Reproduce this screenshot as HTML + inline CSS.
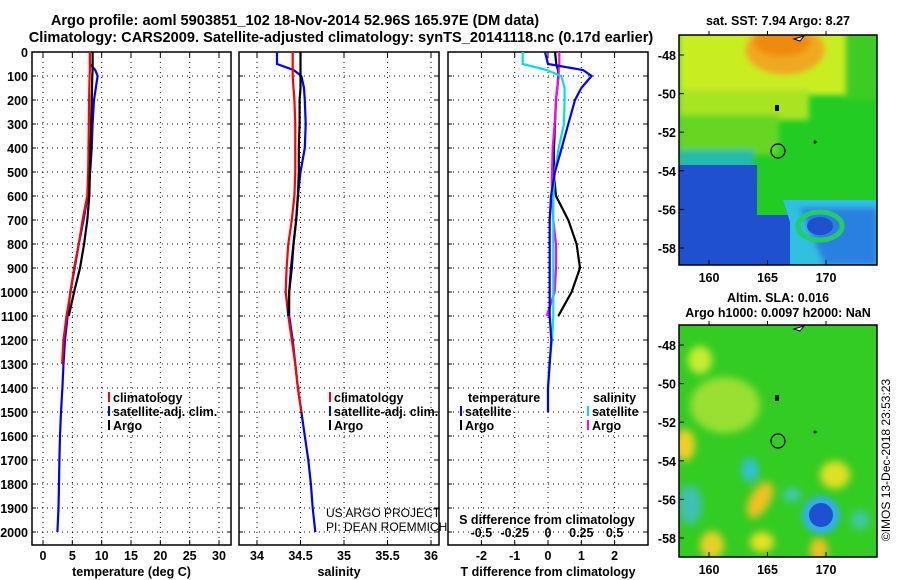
<!DOCTYPE html>
<html><head><meta charset="utf-8">
<style>
body{margin:0;background:#fff;}
svg{display:block;font-family:"Liberation Sans",Arial,sans-serif;}
.b{font-weight:bold;font-size:12.5px;}
</style></head>
<body>
<svg id="s" width="900" height="580" viewBox="0 0 900 580" xmlns="http://www.w3.org/2000/svg">
<defs>
<filter id="blur" x="-20%" y="-20%" width="140%" height="140%"><feGaussianBlur stdDeviation="4"/></filter>
<filter id="blur2"><feGaussianBlur stdDeviation="3"/></filter>
<clipPath id="c1"><rect x="679" y="35" width="198" height="230"/></clipPath>
<clipPath id="c2"><rect x="679" y="325" width="198" height="232"/></clipPath>
</defs>
<text x="295" y="25" text-anchor="middle" style="font-weight:bold;font-size:14.6px">Argo profile: aoml 5903851_102 18-Nov-2014 52.96S 165.97E (DM data)</text>
<text x="341" y="42" text-anchor="middle" style="font-weight:bold;font-size:14.6px">Climatology: CARS2009. Satellite-adjusted climatology: synTS_20141118.nc (0.17d earlier)</text>

<!-- top map -->
<g clip-path="url(#c1)">
<rect x="679" y="35" width="198" height="230" fill="#22cc22"/>
<g filter="url(#blur2)">
<rect x="679" y="30" width="170" height="65" fill="#c8ee20"/>
<rect x="679" y="90" width="130" height="30" fill="#a8e420"/>
<rect x="679" y="115" width="100" height="40" fill="#66d622"/>
<ellipse cx="785" cy="50" rx="40" ry="25" fill="#f0a820"/>
<rect x="845" y="30" width="40" height="70" fill="#3ccc22"/>
<rect x="679" y="150" width="75" height="25" fill="#22bbaa"/>
</g>
<ellipse cx="782" cy="42" rx="28" ry="14" fill="#ee8a10" filter="url(#blur2)"/>
<path d="M679 165 L757 165 L757 215 L790 215 L790 265 L679 265 Z" fill="#1e50d0"/>
<path d="M783 200 L877 200 L877 265 L790 265 L790 222 Z" fill="#30c0e0"/>
<path d="M800 208 L877 208 L877 265 L825 265 Z" fill="#2a80e0" filter="url(#blur2)"/>
<ellipse cx="820" cy="226" rx="22" ry="14" fill="none" stroke="#22cc66" stroke-width="5"/>
<ellipse cx="820" cy="226" rx="13" ry="9" fill="#1e50d0"/>
<circle cx="778" cy="151" r="7" fill="none" stroke="#000" stroke-width="1.2"/>
<rect x="775" y="105" width="4" height="6" fill="#000"/>
<circle cx="815" cy="142" r="1.5" fill="#000"/>
<path d="M794 39 L804 36 L800 41 Z" fill="#fff" stroke="#000"/>
</g>
<rect x="679" y="35" width="198" height="230" fill="none" stroke="#000" stroke-width="1.5"/>
<text class="b" x="778" y="25" text-anchor="middle">sat. SST: 7.94 Argo: 8.27</text>

<!-- bottom map -->
<g clip-path="url(#c2)">
<rect x="679" y="325" width="198" height="232" fill="#33cc22"/>
<g filter="url(#blur)">
<ellipse cx="700" cy="360" rx="12" ry="14" fill="#c8ec30"/>
<ellipse cx="725" cy="405" rx="35" ry="28" fill="#99e030"/>
<ellipse cx="685" cy="445" rx="10" ry="16" fill="#f0d020"/>
<ellipse cx="760" cy="500" rx="10" ry="20" fill="#f0c020" transform="rotate(30 760 500)"/>
<ellipse cx="712" cy="545" rx="12" ry="14" fill="#e8d020"/>
<ellipse cx="762" cy="542" rx="12" ry="10" fill="#e8e020"/>
<ellipse cx="819" cy="550" rx="9" ry="12" fill="#f0c020"/>
<ellipse cx="835" cy="475" rx="15" ry="14" fill="#e0e020"/>
<ellipse cx="750" cy="470" rx="8" ry="12" fill="#30c0e0"/>
<ellipse cx="792" cy="495" rx="9" ry="7" fill="#40c8b0"/>
<ellipse cx="690" cy="505" rx="12" ry="20" fill="#40c0b0"/>
<ellipse cx="860" cy="520" rx="9" ry="10" fill="#40c8a0"/>
</g>
<circle cx="821" cy="515" r="19" fill="#30b0e8" filter="url(#blur2)"/>
<circle cx="821" cy="515" r="12" fill="#1e50d0"/>
<circle cx="778" cy="441" r="7" fill="none" stroke="#000" stroke-width="1.2"/>
<rect x="775" y="395" width="4" height="6" fill="#000"/>
<circle cx="815" cy="432" r="1.5" fill="#000"/>
<path d="M794 329 L804 326 L800 331 Z" fill="#fff" stroke="#000"/>
</g>
<rect x="679" y="325" width="198" height="232" fill="none" stroke="#000" stroke-width="1.5"/>
<text class="b" x="778" y="302" text-anchor="middle">Altim. SLA: 0.016</text>
<text class="b" x="778" y="317" text-anchor="middle">Argo h1000: 0.0097 h2000: NaN</text>
<text x="890" y="460" font-size="12" text-anchor="middle" transform="rotate(-90 890 460)">©IMOS 13-Dec-2018 23:53:23</text>
<text x="326" y="517" font-size="12">US ARGO PROJECT</text>
<text x="326" y="531" font-size="12">PI: DEAN ROEMMICH</text>
<g id="g"></g>
</svg>
<script>
const depthLevels=[0,50,75,100,150,200,300,400,500,600,700,800,900,1000,1100,1200,1300,1400,1500,1600,1700,1800,1900,2000];
const tempArgo=[8.45,8.45,8.45,8.4,8.35,8.3,8.2,8.1,8.0,7.9,7.55,7.0,6.3,5.3,4.4,null,null,null,null,null,null,null,null,null];
const tempClim=[8.0,8.0,8.0,7.95,7.9,7.85,7.8,7.75,7.7,7.55,6.75,6.1,5.3,4.7,4.0,3.5,3.25,null,null,null,null,null,null,null];
const tempSat=[8.0,8.0,8.9,9.3,9.0,8.7,8.45,8.3,8.05,7.6,6.9,6.1,5.4,4.65,4.2,3.75,3.5,3.3,3.07,2.9,2.8,2.73,2.65,2.45];
const salArgo=[34.50,34.50,34.50,34.50,34.50,34.49,34.49,34.48,34.48,34.47,34.45,34.42,34.40,34.37,34.36,null,null,null,null,null,null,null,null,null];
const salClim=[34.41,34.41,34.41,34.41,34.42,34.43,34.44,34.44,34.44,34.43,34.40,34.36,34.34,34.33,34.36,34.40,34.44,34.47,34.51,null,null,null,null,null];
const salSat=[34.23,34.23,34.42,34.51,34.54,34.55,34.56,34.55,34.50,34.47,34.45,34.42,34.39,34.37,34.37,34.41,34.44,34.47,34.51,34.55,34.59,34.62,34.64,34.67];
const dTArgo=[0.21,0.25,0.3,0.31,0.28,0.24,0.21,0.18,0.17,0.24,0.61,0.86,0.96,0.71,0.31,null,null,null,null,null,null,null,null,null];
const dTSat=[-0.09,0,1.05,1.31,1.0,0.81,0.61,0.41,0.21,0.09,0.05,0.05,0.05,0.05,0.05,0.1,0.05,0.0,0.0,null,null,null,null,null];
const dSSat=[-0.19,-0.19,-0.01,0.10,0.125,0.125,0.12,0.08,0.05,0.04,0.04,0.04,0.04,0.04,0.04,0.03,0.01,0.0,0.0,null,null,null,null,null];
const dSArgo=[0.085,0.085,0.08,0.08,0.07,0.06,0.05,0.035,0.03,0.03,0.04,0.06,0.06,0.05,-0.01,null,null,null,null,null,null,null,null,null];
const depthTicks=[0,100,200,300,400,500,600,700,800,900,1000,1100,1200,1300,1400,1500,1600,1700,1800,1900,2000];
const tempTicks=[0,5,10,15,20,25,30];
const salTicks=[34,34.5,35,35.5,36];
const dTTicks=[-2,-1,0,1,2];
const dSTicks=[-0.5,-0.25,0,0.25,0.5];
const latTicks=[-48,-50,-52,-54,-56,-58];
const lonTicks=[160,165,170];

const NS="http://www.w3.org/2000/svg",G=document.getElementById('g');
function el(t,a,txt){const e=document.createElementNS(NS,t);for(const k in a)e.setAttribute(k,a[k]);if(txt!==undefined)e.textContent=txt;G.appendChild(e);return e;}
const yD=d=>52+d*0.24;
const xT=v=>43+v*5.867, xS=v=>257+(v-34)*87, xdT=v=>548+v*33.3, xdS=v=>548+v*133.2;
const panels=[{x0:32,x1:231,fx:xT,ticks:tempTicks,title:'temperature (deg C)',n:'temperature-panel'},
{x0:239,x1:439,fx:xS,ticks:salTicks,title:'salinity',n:'salinity-panel'},
{x0:448,x1:648,fx:xdT,ticks:dTTicks,title:'T difference from climatology',n:'difference-panel'}];
const yB=545;
panels.forEach((p,i)=>{
  const fr=el('rect',{x:p.x0,y:52,width:p.x1-p.x0,height:yB-52,fill:'none',stroke:'#000','stroke-width':1.5});
  
  
  depthTicks.forEach(d=>{
    const l=el('line',{x1:p.x0,x2:p.x1,y1:yD(d),y2:yD(d),stroke:'#000','stroke-dasharray':'1 4'});
    
    
    el('line',{x1:p.x0,x2:p.x0+4,y1:yD(d),y2:yD(d),stroke:'#000'});
    el('line',{x1:p.x1-4,x2:p.x1,y1:yD(d),y2:yD(d),stroke:'#000'});
  });
  p.ticks.forEach(v=>{
    const x=p.fx(v);
    const l=el('line',{x1:x,x2:x,y1:52,y2:yB,stroke:'#000','stroke-dasharray':'1 4'});
    
    
    el('line',{x1:x,x2:x,y1:52,y2:57,stroke:'#000'});
    el('line',{x1:x,x2:x,y1:yB-5,y2:yB,stroke:'#000'});
    const t=el('text',{x:x,y:yB+15,'text-anchor':'middle',class:'b'},String(v));
    
    
  });
  const t=el('text',{x:(p.x0+p.x1)/2,y:yB+31,'text-anchor':'middle',class:'b'},p.title);
  
  
});
depthTicks.forEach(d=>{
  const t=el('text',{x:28,y:yD(d)+5,'text-anchor':'end',class:'b'},String(d));
  
  
});
dSTicks.forEach(v=>{
  const t=el('text',{x:xdS(v),y:537,'text-anchor':'middle',class:'b'},String(v));
  
  
});
{const t=el('text',{x:547,y:524,'text-anchor':'middle',class:'b'},'S difference from climatology');

}

function series(vals,fx,color,name){
  const pts=[];depthLevels.forEach((d,i)=>{if(vals[i]!==null)pts.push(fx(vals[i]).toFixed(1)+','+yD(d).toFixed(1));});
  const l=el('polyline',{points:pts.join(' '),fill:'none',stroke:color,'stroke-width':2.2});
  
  
}
series(tempSat,xT,'#0000ff','temp-satellite-line');
series(tempClim,xT,'#ff0000','temp-climatology-line');
series(tempArgo,xT,'#000','temp-argo-line');
series(salSat,xS,'#0000ff','sal-satellite-line');
series(salClim,xS,'#ff0000','sal-climatology-line');
series(salArgo,xS,'#000','sal-argo-line');
series(dTArgo,xdT,'#000','tdiff-argo-line');
series(dSArgo,xdS,'#ff00ff','sdiff-argo-line');
series(dSSat,xdS,'#00e0e0','sdiff-satellite-line');
series(dTSat,xdT,'#0000ff','tdiff-satellite-line');

function legend(x,y,color,label,name){
  el('rect',{x:x,y:y-10,width:2,height:10,fill:color});
  const t=el('text',{x:x+5,y:y,class:'b'},label);
  
  
}
[['climatology','#f00'],['satellite-adj. clim.','#00f'],['Argo','#000']].forEach((a,i)=>legend(108,402+i*14,a[1],a[0],'temp-legend-entry'));
[['climatology','#f00'],['satellite-adj. clim.','#00f'],['Argo','#000']].forEach((a,i)=>legend(329,402+i*14,a[1],a[0],'sal-legend-entry'));
{const t=el('text',{x:468,y:402,class:'b'},'temperature');
const u=el('text',{x:593,y:402,class:'b'},'salinity');}
legend(460,416,'#00f','satellite','legend-t-satellite');
legend(460,430,'#000','Argo','legend-t-argo');
legend(587,416,'#00e0e0','satellite','legend-s-satellite');
legend(587,430,'#f0f','Argo','legend-s-argo');

function mapAxes(y0,y1,name){
  const yL=lat=>y0+(-48-lat)*19.3+20;
  latTicks.forEach(lat=>{
    const y=yL(lat);
    el('line',{x1:679,x2:684,y1:y,y2:y,stroke:'#000'});
    const t=el('text',{x:676,y:y+5,'text-anchor':'end',class:'b'},String(lat));
    
    
  });
  lonTicks.forEach(lon=>{
    const x=709+(lon-160)*11.7;
    el('line',{x1:x,x2:x,y1:y1-5,y2:y1,stroke:'#000'});
    el('line',{x1:x,x2:x,y1:y0,y2:y0-4,stroke:'#000'});
    const t=el('text',{x:x,y:y1+17,'text-anchor':'middle',class:'b'},String(lon));
    
    
  });
}
mapAxes(35,265,'sst-map');
mapAxes(325,557,'sla-map');
</script>
</body></html>
